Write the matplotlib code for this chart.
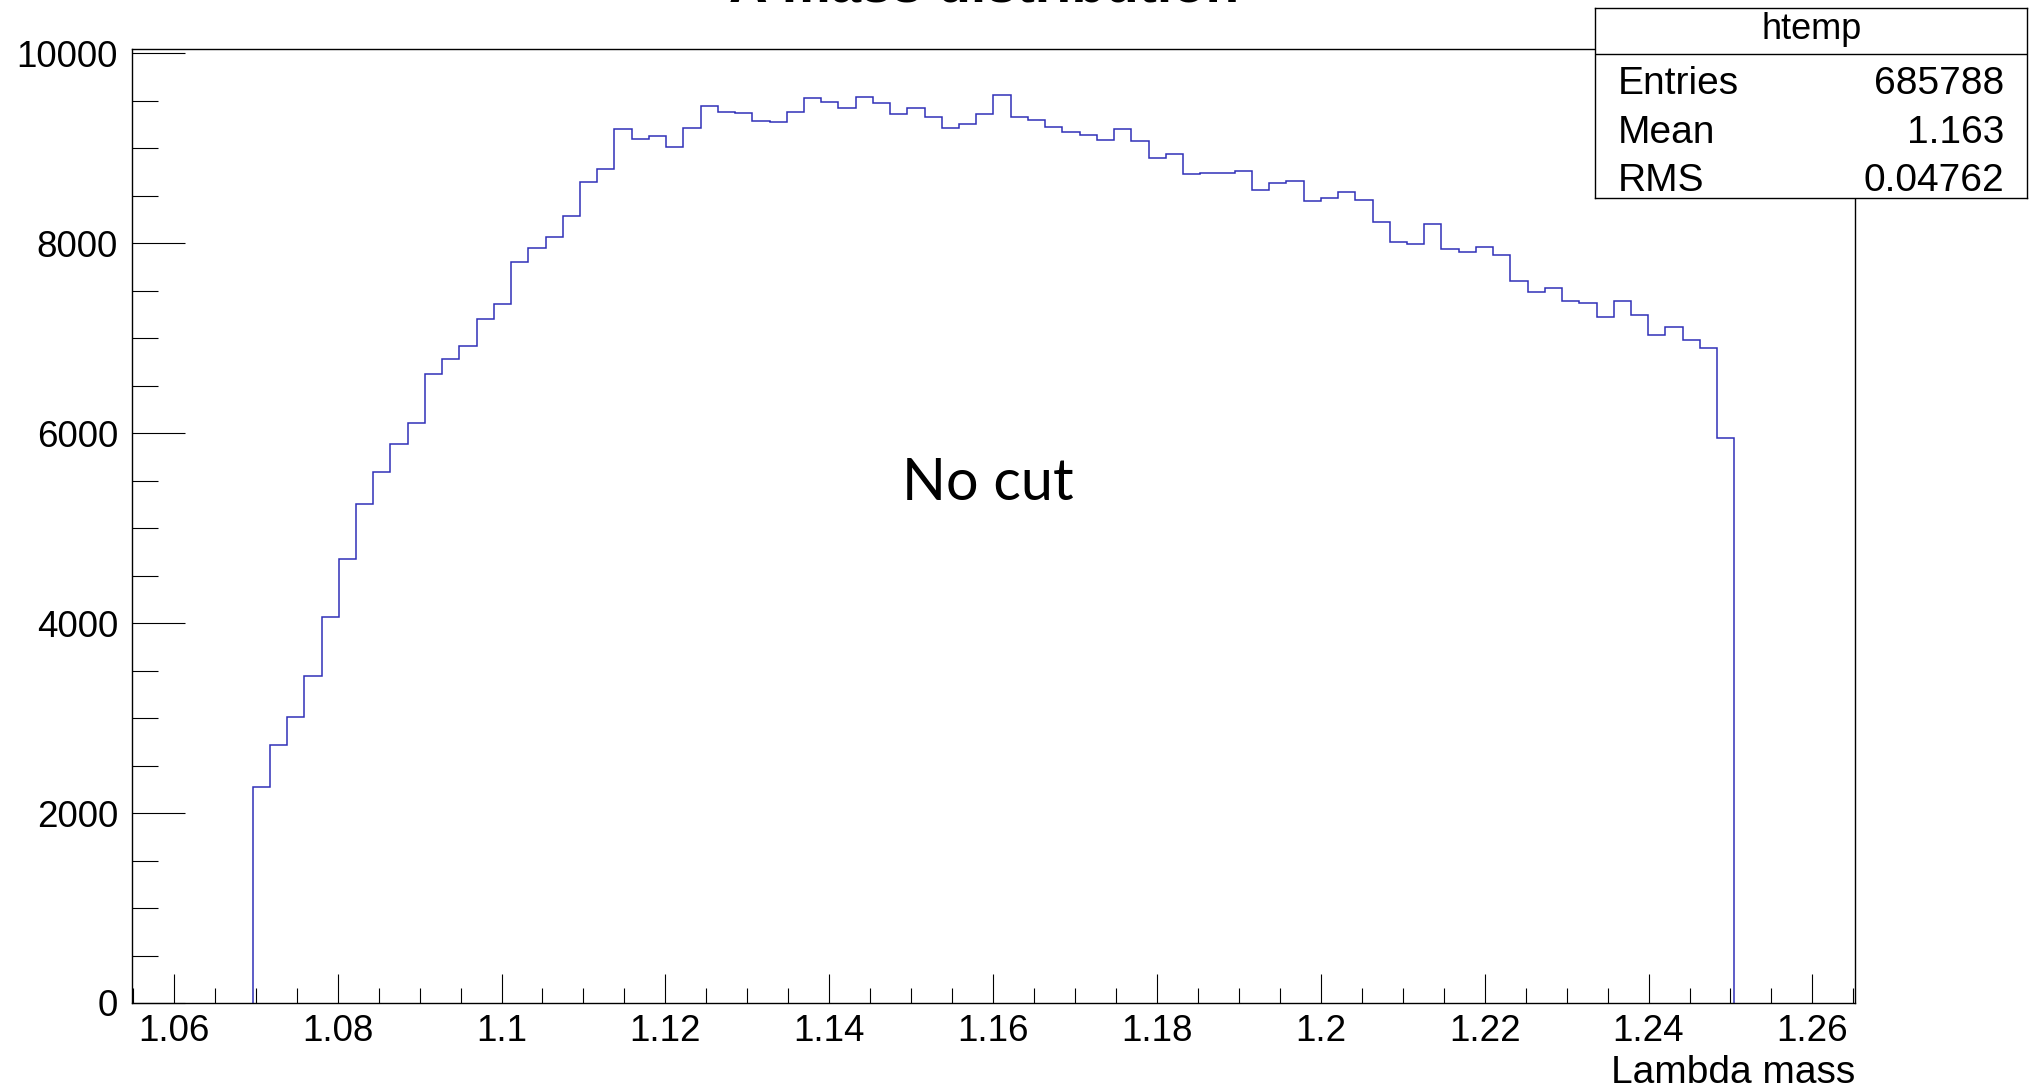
"""Lambda mass histogram (ROOT htemp look-alike), no cut applied."""

import numpy as np
import matplotlib

matplotlib.use("Agg")  # headless backend
import matplotlib.pyplot as plt
from matplotlib.ticker import FixedLocator, MultipleLocator

# htemp binning: 100 bins over the auto range chosen by TTree::Draw
x_min, x_max, n_bins = 1.0549, 1.2652, 100
first_filled_bin = 7

# contents of the filled bins (1.0696 .. 1.2505)
filled_counts = [
    2274, 2713, 3015, 3446, 4066, 4670, 5250, 5592, 5881, 6107,
    6618, 6775, 6920, 7205, 7362, 7801, 7945, 8062, 8288, 8641,
    8782, 9201, 9097, 9124, 9011, 9213, 9443, 9382, 9372, 9285,
    9271, 9383, 9527, 9485, 9425, 9540, 9471, 9358, 9425, 9327,
    9214, 9257, 9358, 9558, 9327, 9299, 9225, 9172, 9141, 9085,
    9201, 9074, 8899, 8941, 8727, 8741, 8741, 8759, 8556, 8628,
    8655, 8444, 8472, 8538, 8454, 8226, 8016, 7988, 8202, 7942,
    7904, 7960, 7872, 7606, 7487, 7532, 7385, 7374, 7217, 7385,
    7245, 7031, 7119, 6975, 6891, 5951,
]

x_ticks = [1.06, 1.08, 1.10, 1.12, 1.14, 1.16, 1.18, 1.20, 1.22, 1.24, 1.26]
x_tick_labels = ["1.06", "1.08", "1.1", "1.12", "1.14", "1.16", "1.18",
                 "1.2", "1.22", "1.24", "1.26"]
y_ticks = [0, 2000, 4000, 6000, 8000, 10000]
y_tick_labels = ["0", "2000", "4000", "6000", "8000", "10000"]

stat_names = ["Entries", "Mean", "RMS"]
stat_values = ["685788", "1.163", "0.04762"]

edges = np.linspace(x_min, x_max, n_bins + 1)
counts = np.zeros(n_bins)
last_filled_bin = first_filled_bin + len(filled_counts)
counts[first_filled_bin:last_filled_bin] = filled_counts

plt.rcParams["font.family"] = ["Liberation Sans", "DejaVu Sans"]

W, H = 2031, 1090
fig = plt.figure(figsize=(W / 100, H / 100), dpi=100)
ax = fig.add_axes([132 / W, 1 - 1003 / H, (1855 - 132) / W, (1003 - 49.3) / H])

# empty bins sit under the x axis line in ROOT, so only the filled range is drawn
ax.stairs(counts[first_filled_bin:last_filled_bin],
          edges[first_filled_bin:last_filled_bin + 1],
          color="#3030b8", linewidth=1.1)
ax.set_xlim(x_min, x_max)
ax.set_ylim(0, 10040)

ax.xaxis.set_major_locator(FixedLocator(x_ticks))
ax.set_xticklabels(x_tick_labels)
ax.xaxis.set_minor_locator(MultipleLocator(0.005))
ax.yaxis.set_major_locator(FixedLocator(y_ticks))
ax.set_yticklabels(y_tick_labels)
ax.yaxis.set_minor_locator(MultipleLocator(500))

ax.tick_params(axis="x", which="major", direction="in", length=21, width=0.8,
               labelsize=26.5, pad=8, top=False)
ax.tick_params(axis="x", which="minor", direction="in", length=10.5, width=0.8,
               top=False)
ax.tick_params(axis="y", which="major", direction="in", length=38, width=0.8,
               labelsize=26.5, pad=10, right=False)
ax.tick_params(axis="y", which="minor", direction="in", length=19, width=0.8,
               right=False)
for sp in ax.spines.values():
    sp.set_linewidth(1.0)

# axis title, right aligned under the frame
fig.text(1855 / W, 1 - 1083 / H, "Lambda mass", ha="right", va="baseline",
         fontsize=28)

# ROOT title, mostly cut off at the top of the screenshot
fig.text(985 / W, 1 - 1.0 / H, "Λ mass distribution", ha="center",
         va="baseline", fontsize=39.5, fontweight="bold")

# slide annotation
fig.text(988 / W, 1 - 500 / H, "No cut", ha="center", va="baseline",
         fontsize=41.5, family=["Lato", "DejaVu Sans"])

# stats box
box = fig.add_axes([1595 / W, 1 - 198.2 / H, (2027 - 1595) / W, (198.2 - 7.8) / H])
box.set_xticks([])
box.set_yticks([])
box.set_xlim(0, 1)
box.set_ylim(0, 1)
for sp in box.spines.values():
    sp.set_linewidth(1.0)
box.axhline(0.755, color="black", linewidth=1.0)
box.text(0.5016, 0.835, "htemp", ha="center", va="baseline", fontsize=26)
row_y = [0.548, 0.29, 0.04]
for name, val, yy in zip(stat_names, stat_values, row_y):
    box.text(0.052, yy, name, ha="left", va="baseline", fontsize=28)
    box.text(0.948, yy, val, ha="right", va="baseline", fontsize=28)

fig.savefig("out.png", dpi=100)
plt.close(fig)
